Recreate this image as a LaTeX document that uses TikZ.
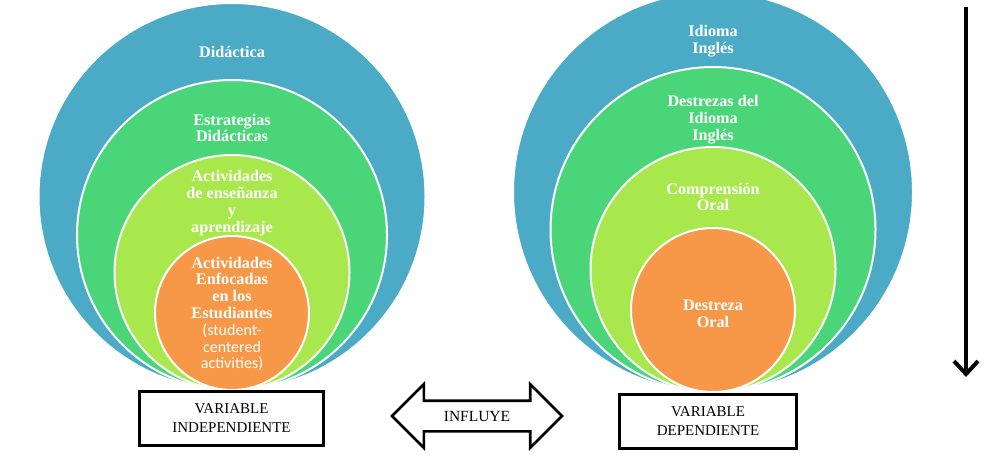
\documentclass[tikz,border=0pt]{standalone}
\usepackage{fontspec}
\setmainfont{Liberation Serif}
\newfontfamily\calib{Carlito}
\usepackage{tikz}
\usetikzlibrary{arrows.meta, shapes.arrows}

\definecolor{ringblue}{RGB}{75,170,198}
\definecolor{ringgreen}{RGB}{74,214,120}
\definecolor{ringlime}{RGB}{168,232,76}
\definecolor{ringorange}{RGB}{246,152,72}

\begin{document}
\begin{tikzpicture}[x=1pt, y=-1pt,
  disc/.style={circle, inner sep=0pt, draw=white, line width=2pt},
  ringtext/.style={text=white, align=center, font=\bfseries\fontsize{16.2}{16.8}\selectfont},
  varbox/.style={draw, line width=2.6pt, minimum width=184pt, minimum height=54pt, align=center, font=\fontsize{15}{19}\selectfont}]
  \useasboundingbox (0,0) rectangle (984,463);
  \node[disc, fill=ringblue, minimum size=387pt] (didac) at (232,196.5) {};
  \node[disc, fill=ringgreen, minimum size=310pt] (estrat) at (232,235) {};
  \node[disc, fill=ringlime, minimum size=235pt] (activ) at (232,272.5) {};
  \node[disc, fill=ringorange, minimum size=154pt] (enfoc) at (232,313) {};
  \node[ringtext] (didactxt) at (232,52) {Didáctica};
  \node[ringtext] (estrattxt) at (232,128) {Estrategias\\Didácticas};
  \node[ringtext] (activtxt) at (232,203) {Actividades\\de enseñanza\\y\\aprendizaje};
  \node[ringtext] (enfoctxt) at (232,314) {Actividades\\Enfocadas\\en los\\Estudiantes\\{\calib\mdseries\fontsize{16}{16.8}\selectfont (student-}\\{\calib\mdseries\fontsize{16}{16.8}\selectfont centered}\\{\calib\mdseries\fontsize{16}{16.8}\selectfont activities)}};
  \node[disc, fill=ringblue, minimum size=400pt] (idioma) at (713,192) {};
  \node[disc, fill=ringgreen, minimum size=325pt] (destrez) at (713,229.5) {};
  \node[disc, fill=ringlime, minimum size=245pt] (compren) at (713,269.5) {};
  \node[disc, fill=ringorange, minimum size=164pt] (oral) at (713,310) {};
  \node[ringtext] (idiomatxt) at (713,41) {Idioma\\Inglés};
  \node[ringtext] (destreztxt) at (713,119.5) {Destrezas del\\Idioma\\Inglés};
  \node[ringtext] (comprentxt) at (713,197) {Comprensión\\Oral};
  \node[ringtext] (oraltxt) at (713,314) {Destreza\\Oral};
  \node[varbox] (indep) at (231.5,418.5) {VARIABLE\\INDEPENDIENTE};
  \node[varbox, minimum width=177pt] (dep) at (708,421.5) {VARIABLE\\DEPENDIENTE};
  \node[double arrow, draw, line width=2.6pt, fill=white, minimum height=170pt,
    inner xsep=2pt, inner ysep=9pt, text height=10pt, text depth=0pt,
    double arrow head extend=16.5pt, font=\fontsize{15.5}{18}\selectfont] (influye) at (477,416) {INFLUYE};
  \coordinate (flowtop) at (966,7);
  \coordinate (flowend) at (966,377);
  \draw[line width=4pt, -{Straight Barb[length=13pt, width=24pt, line width=4pt]}] (flowtop) -- (flowend);
\end{tikzpicture}
\end{document}
